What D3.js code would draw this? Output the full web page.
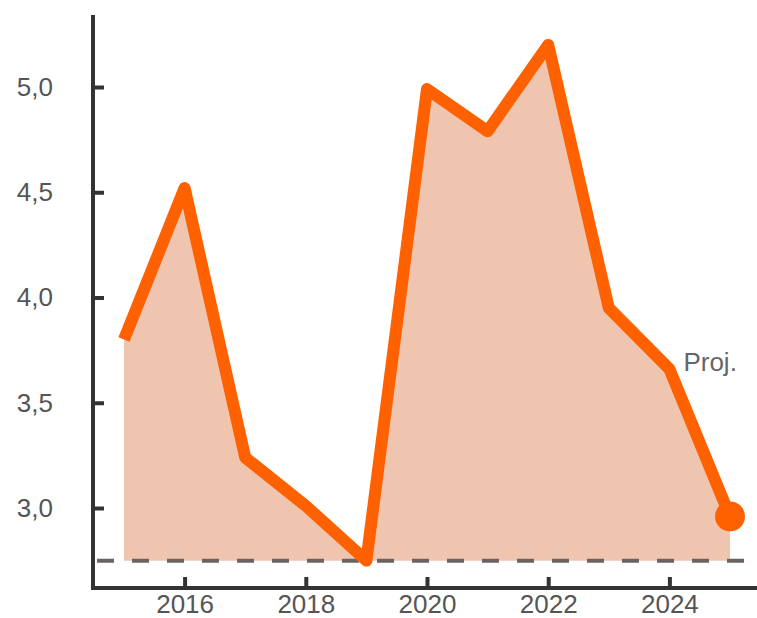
<!DOCTYPE html>
<html>
<head>
<meta charset="utf-8">
<script src="https://cdn.jsdelivr.net/npm/d3@7"></script>
<style>
  html, body { margin: 0; padding: 0; background: #fff; }
  svg { display: block; font-family: "Liberation Sans", Arial, sans-serif; }
</style>
</head>
<body>
<svg id="chart" width="757" height="618"></svg>
<script>
// Annual values (last point is a projection)
const years  = [2015, 2016, 2017, 2018, 2019, 2020, 2021, 2022, 2023, 2024, 2025];
const values = [3.80, 4.52, 3.24, 3.01, 2.75, 4.99, 4.79, 5.20, 3.95, 3.66, 2.96];
const xTickValues = [2016, 2018, 2020, 2022, 2024];
const yTickValues = [3.0, 3.5, 4.0, 4.5, 5.0];
const projLabel = "Proj.";

const svg = d3.select("#chart");
const W = 757, H = 618;

const x = d3.scaleLinear().domain([2015, 2025]).range([124, 730]);
const y = d3.scaleLinear().domain([3, 5]).range([508, 87]);

const axisX = 93, axisY = 588, axisTop = 15;
const baseValue = d3.min(values);

const data = years.map((yr, i) => ({ yr, v: values[i] }));

// area under the line down to the minimum level
svg.append("path")
  .datum(data)
  .attr("fill", "#f0c5b0")
  .attr("d", d3.area().x(d => x(d.yr)).y0(y(baseValue)).y1(d => y(d.v)));

// dashed reference at the minimum
svg.append("line")
  .attr("x1", axisX).attr("x2", W)
  .attr("y1", y(baseValue)).attr("y2", y(baseValue))
  .attr("stroke", "#6b6363").attr("stroke-width", 4)
  .attr("stroke-dasharray", "17,18").attr("stroke-dashoffset", -4);

// main line
svg.append("path")
  .datum(data)
  .attr("fill", "none")
  .attr("stroke", "#ff6000")
  .attr("stroke-width", 12)
  .attr("stroke-linejoin", "round")
  .attr("stroke-linecap", "butt")
  .attr("d", d3.line().x(d => x(d.yr)).y(d => y(d.v)));

// projected end point
const last = data[data.length - 1];
svg.append("circle")
  .attr("cx", x(last.yr)).attr("cy", y(last.v)).attr("r", 15)
  .attr("fill", "#ff6000");

// projection label
const prev = data[data.length - 2];
svg.append("text")
  .attr("x", x(prev.yr) + 14).attr("y", y(prev.v) + 2)
  .attr("fill", "#666").attr("font-size", 26)
  .text(projLabel);

// axes
const gx = svg.append("g").attr("transform", `translate(0,${axisY})`)
  .call(d3.axisBottom(x).tickValues(xTickValues).tickFormat(d3.format("d"))
    .tickSize(-11).tickSizeOuter(0).tickPadding(7));
const gy = svg.append("g").attr("transform", `translate(${axisX},0)`)
  .call(d3.axisLeft(y).tickValues(yTickValues).tickFormat(d => d.toFixed(1).replace(".", ","))
    .tickSize(-11).tickSizeOuter(0).tickPadding(40));

[gx, gy].forEach(g => {
  g.select(".domain").remove();
  g.selectAll(".tick line").attr("stroke", "#333").attr("stroke-width", 4);
  g.selectAll(".tick text").attr("fill", "#555").attr("font-size", 26)
    .attr("font-family", "'Liberation Sans', Arial, sans-serif");
});

svg.append("line")
  .attr("x1", axisX).attr("x2", axisX).attr("y1", axisTop).attr("y2", axisY + 2)
  .attr("stroke", "#333").attr("stroke-width", 4);
svg.append("line")
  .attr("x1", axisX - 2).attr("x2", W).attr("y1", axisY).attr("y2", axisY)
  .attr("stroke", "#333").attr("stroke-width", 4);
</script>
</body>
</html>
